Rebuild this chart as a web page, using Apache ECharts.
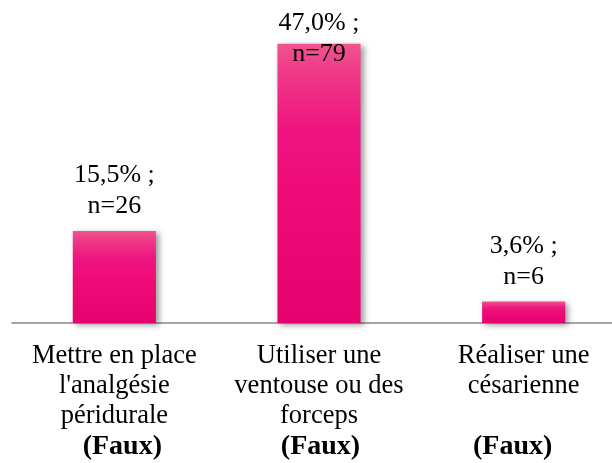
<!DOCTYPE html>
<html>
<head>
<meta charset="utf-8">
<script src="https://cdn.jsdelivr.net/npm/echarts@6/dist/echarts.min.js"></script>
<style>
  html, body { margin: 0; padding: 0; background: #fff; }
  #chart { width: 612px; height: 463px; }
</style>
</head>
<body>
<div id="chart"></div>
<script>
// chart data
const categories = [
  'Mettre en place\nl\'analgésie\npéridurale',
  'Utiliser une\nventouse ou des\nforceps',
  'Réaliser une\ncésarienne\n ',
]
const verdicts = ['(Faux)', '(Faux)', '(Faux)']
const percents = [15.5, 47.0, 3.6]
const counts = [26, 79, 6]

const serif = "'Liberation Serif', 'Times New Roman', serif"

const chart = echarts.init(document.getElementById('chart'), null, { renderer: 'canvas' })

const barGradient = new echarts.graphic.LinearGradient(0, 0, 0, 1, [
  { offset: 0, color: '#f1538f' },
  { offset: 0.1, color: '#f03a88' },
  { offset: 0.3, color: '#ee1580' },
  { offset: 0.55, color: '#ee0a77' },
  { offset: 1, color: '#e5036f' },
])

chart.setOption({
  animation: false,
  // grid runs a little past the right edge, like the original
  grid: { left: 12, width: 614, top: 26, bottom: 140, outerBoundsMode: 'none' },
  xAxis: {
    type: 'category',
    data: categories,
    axisLine: { lineStyle: { color: '#a6a6a6', width: 2 } },
    axisTick: { show: false },
    axisLabel: {
      interval: 0,
      margin: 18,
      color: '#000',
      fontFamily: serif,
      fontSize: 26,
      lineHeight: 30,
      formatter: (value, idx) => {
        const lines = value.split('\n').map(l => '{t|' + l + '}')
        return lines.join('\n') + '\n{f' + idx + '|' + verdicts[idx] + '}'
      },
      rich: {
        t: { fontFamily: serif, fontSize: 26.5, lineHeight: 30, color: '#000' },
        f0: { fontFamily: serif, fontSize: 28, fontWeight: 'bold', lineHeight: 32, color: '#000', padding: [0, 0, 0, 16] },
        f1: { fontFamily: serif, fontSize: 28, fontWeight: 'bold', lineHeight: 32, color: '#000', padding: [0, 0, 0, 3] },
        f2: { fontFamily: serif, fontSize: 28, fontWeight: 'bold', lineHeight: 32, color: '#000', padding: [0, 22, 0, 0] },
      },
    },
  },
  yAxis: {
    type: 'value',
    min: 0,
    max: 50,
    show: false,
    splitLine: { show: false },
  },
  series: [{
    type: 'bar',
    barWidth: '40.6%',
    data: percents.map((v, i) => ({
      value: v,
      // the tallest bar's label sits lower, over the bar top
      label: i === 1 ? { offset: [0, 35] } : undefined,
    })),
    itemStyle: {
      color: barGradient,
      shadowColor: 'rgba(0, 0, 0, 0.4)',
      shadowBlur: 6,
      shadowOffsetX: 3,
      shadowOffsetY: 2,
    },
    label: {
      show: true,
      position: 'top',
      distance: 9,
      color: '#000',
      fontFamily: serif,
      fontSize: 26,
      lineHeight: 31,
      formatter: p => percents[p.dataIndex].toFixed(1).replace('.', ',') + '% ;\nn=' + counts[p.dataIndex],
    },
  }],
})

window.addEventListener('resize', () => chart.resize())
</script>
</body>
</html>
